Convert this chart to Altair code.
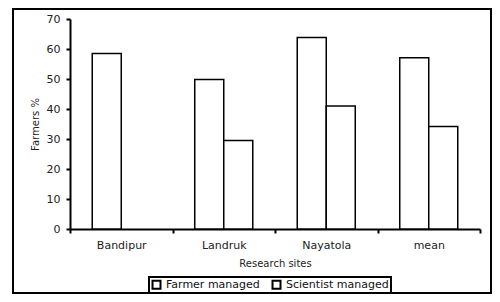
import altair as alt
import pandas as pd

sites = ["Bandipur", "Landruk", "Nayatola", "mean"]
series = ["Farmer managed", "Scientist managed"]
farmer = [58.5, 49.8, 63.8, 57.1]
scientist = [None, 29.5, 41.0, 34.2]
y_ticks = [0, 10, 20, 30, 40, 50, 60, 70]

rows = []
for s, f, sc in zip(sites, farmer, scientist):
    rows.append({"site": s, "group": series[0], "value": f})
    rows.append({"site": s, "group": series[1], "value": sc})
df = pd.DataFrame(rows)

FONT = "DejaVu Sans"

bars = alt.Chart(df).mark_bar(stroke="black", strokeWidth=1.5).encode(
    x=alt.X(
        "site:N",
        sort=sites,
        scale=alt.Scale(paddingInner=0, paddingOuter=0),
        axis=alt.Axis(
            title="Research sites",
            labelAngle=0,
            tickBand="extent",
            labelPadding=6,
            titlePadding=8,
        ),
    ),
    xOffset=alt.XOffset(
        "group:N", sort=series, scale=alt.Scale(paddingInner=0, paddingOuter=0.767)
    ),
    y=alt.Y(
        "value:Q",
        scale=alt.Scale(domain=[0, 70], nice=False),
        axis=alt.Axis(
            values=y_ticks,
            title="Farmers %",
            grid=False,
            labelPadding=6,
            titlePadding=6,
        ),
    ),
    fill=alt.Fill(
        "group:N",
        scale=alt.Scale(domain=series, range=["white", "white"]),
        legend=alt.Legend(
            title=None,
            orient="none",
            legendX=79,
            legendY=258,
            direction="horizontal",
            strokeColor="black",
            padding=2,
            columnPadding=8,
            symbolType="square",
            symbolSize=64,
            symbolStrokeColor="black",
            symbolStrokeWidth=2,
            symbolFillColor="white",
            labelFont=FONT,
            labelFontSize=11,
            labelColor="#111",
            labelLimit=300,
            labelOffset=4,
        ),
    ),
)

frame = alt.Chart(pd.DataFrame({"f": [0]})).mark_rect(
    fill="transparent", stroke="black", strokeWidth=2
).encode(
    x=alt.value(-57), x2=alt.value(421), y=alt.value(-10), y2=alt.value(274)
)

chart = alt.layer(frame, bars).properties(
    width=410,
    height=210,
    autosize=alt.AutoSizeParams(type="none"),
    padding={"left": 62, "top": 11, "right": 12, "bottom": 65},
).configure_view(
    stroke="transparent"
).configure_axis(
    domainColor="black",
    domainWidth=2,
    tickColor="black",
    tickWidth=2,
    tickSize=4,
    labelFont=FONT,
    labelFontSize=11,
    labelColor="#222",
    titleFont=FONT,
    titleFontSize=10,
    titleFontWeight="normal",
    titleColor="#222",
).configure_legend(
    strokeWidth=2
)

chart.save("out.html", embed_options={"renderer": "svg", "actions": False})
